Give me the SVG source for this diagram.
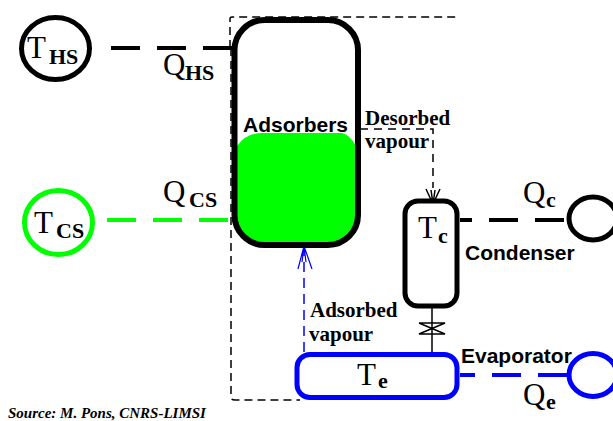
<svg xmlns="http://www.w3.org/2000/svg" width="613" height="421" viewBox="0 0 613 421">
<style>
text{font-family:"Liberation Serif",serif;fill:#000}
.t{font-size:31px}
.s{font-size:22px;font-weight:bold}
.l{font-size:21px;font-weight:bold}
.h{font-size:21px;font-weight:bold;font-family:"Liberation Sans",sans-serif}
.o{fill:#fff;stroke-width:5}
.d{fill:none;stroke-width:4;stroke-dasharray:29 17}
.th{fill:none;stroke:#000;stroke-width:1.5}
</style>
<rect width="613" height="421" fill="#fff"/>
<g id="connectors">
<path class="th" d="M230 48V19Q230 17 232 17H460M231 48V397Q231 400 235 400H300" stroke-dasharray="8 5"/>
<path class="d" stroke="#000" d="M111 48H234"/>
<path class="d" stroke="#0f0" d="M107 220H232"/>
<path class="d" stroke="#000" d="M460 220H566" stroke-dashoffset="17"/>
<path class="d" stroke="#00f" d="M460 375H568" stroke-dashoffset="14"/>
<path class="th" stroke-dasharray="8 6" d="M360 129H433V188"/>
<path class="th" d="M426 189L433 204L440 189M431 190L433 204L435 190"/>
<path d="M304 352V250" fill="none" stroke="#00f" stroke-width="1.5" stroke-dasharray="10 6"/>
<path d="M298 269L304 246L312 269M302 262L304 246L306 262" fill="none" stroke="#00f" stroke-width="1.2"/>
<path class="th" d="M432 306V353M419 323H445L419 334H445L419 323"/>
</g>
<g id="ths"><ellipse cx="55.500" cy="48.500" rx="34" ry="31" class="o" stroke="#000"/><text x="27" y="58" class="t">T</text><text x="49" y="64" class="s">HS</text></g>
<g id="tcs"><ellipse cx="58.500" cy="222.500" rx="34" ry="32" class="o" stroke="#0f0"/><text x="34" y="233" class="t">T</text><text x="56" y="238" class="s">CS</text></g>
<g id="adsorbers">
<path d="M237 146Q246 133 262 133H342Q350 135 356 146V215Q356 242 330 242H264Q237 242 237 215Z" fill="#0f0"/>
<rect x="234.500" y="20" width="123.500" height="225" rx="30" fill="none" stroke="#000" stroke-width="6"/>
<text x="243" y="132" class="h">Adsorbers</text>
</g>
<g id="condenser"><rect x="405" y="201" width="52" height="105" rx="13" class="o" stroke="#000"/><text x="418" y="238" class="t">T</text><text x="438" y="243" class="s">c</text></g>
<g id="evaporator"><rect x="297" y="354.500" width="160" height="43" rx="13" class="o" stroke="#00f"/><text x="357" y="385" class="t">T</text><text x="378" y="388" class="s">e</text></g>
<g id="sink-c"><ellipse cx="593" cy="218.500" rx="24" ry="21.500" class="o" stroke="#000"/></g>
<g id="sink-e"><ellipse cx="593" cy="375" rx="24" ry="21.500" class="o" stroke="#00f"/></g>
<g id="labels">
<text x="163" y="75" class="t">Q</text><text x="185" y="80" class="s">HS</text>
<text x="163" y="202" class="t">Q</text><text x="189" y="207" class="s">CS</text>
<text x="523" y="203" class="t">Q</text><text x="546" y="207" class="s">c</text>
<text x="523" y="405" class="t">Q</text><text x="546" y="409" class="s">e</text>
<text x="365" y="125" class="l">Desorbed</text>
<text x="365" y="148" class="l">vapour</text>
<text x="310" y="317" class="l">Adsorbed</text>
<text x="309" y="341" class="l">vapour</text>
<text x="465" y="260" class="h">Condenser</text>
<text x="461" y="363" class="h">Evaporator</text>
<text x="8" y="418" style="font-size:15px;font-style:italic;font-weight:bold">Source: M. Pons, CNRS-LIMSI</text>
</g>
</svg>
